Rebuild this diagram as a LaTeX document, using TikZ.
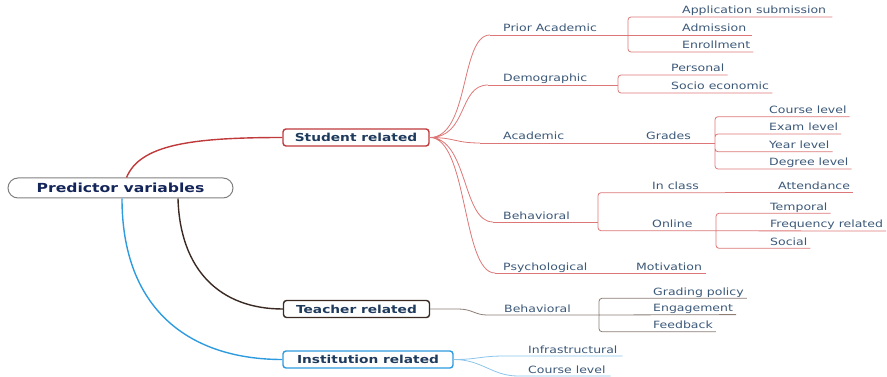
\documentclass[tikz,border=0pt]{standalone}
\usepackage{fontspec}
\newfontfamily\mapfont[FakeStretch=1.25]{DejaVu Sans}
\usetikzlibrary{positioning}
\definecolor{stured}{HTML}{C0393B}
\definecolor{redline}{HTML}{DD7777}
\definecolor{tchbrown}{HTML}{3A2A22}
\definecolor{brownline}{HTML}{8C7C74}
\definecolor{insblue}{HTML}{2E9BDF}
\definecolor{blueline}{HTML}{8CC6EC}
\definecolor{leafblue}{HTML}{3B5878}
\definecolor{hubnavy}{HTML}{1E3A5C}
\definecolor{rootnavy}{HTML}{14255A}
\tikzset{
    root/.style={draw=gray, line width=1pt, fill=white, rounded corners=10pt,
        minimum width=225pt, minimum height=20pt, inner sep=0pt,
        font=\mapfont\bfseries\fontsize{12.5}{14}\selectfont, text=rootnavy},
    hub/.style={draw, line width=1.4pt, fill=white, rounded corners=3pt,
        minimum width=146pt, minimum height=17pt, inner sep=0pt,
        font=\mapfont\bfseries\fontsize{11}{13}\selectfont, text=hubnavy},
    leaf/.style={anchor=south west, inner xsep=3pt, inner ysep=0.8pt,
        text height=7.3pt, text depth=2pt,
        font=\mapfont\fontsize{10}{12}\selectfont, text=leafblue},
    sthin/.style={draw=redline, line width=0.8pt},
    tthin/.style={draw=brownline, line width=0.8pt},
    ithin/.style={draw=blueline, line width=0.8pt}
}
\begin{document}
\begin{tikzpicture}[x=1pt, y=-1pt]
    \useasboundingbox (0, 0) rectangle (887, 377);
    % main topics
    \node[root] (pv) at (120.5, 188) {Predictor variables};
    \node[hub, draw=stured] (stu) at (356, 137.5) {Student related};
    \node[hub, draw=tchbrown] (tch) at (356.5, 309) {Teacher related};
    \node[hub, draw=insblue, minimum width=170pt] (ins) at (368, 359.5) {Institution related};
    \draw[stured, line width=1.4pt]
    ([xshift=6pt]pv.north) .. controls (140, 145) and (190, 137.5) .. (stu.west);
    \draw[tchbrown, line width=1.4pt]
    ([xshift=57.5pt]pv.south) .. controls (180, 270) and (220, 309) .. (tch.west);
    \draw[insblue, line width=1.4pt]
    ([xshift=1.5pt]pv.south) .. controls (122, 310) and (190, 359.5) .. (ins.west);

    % student related
    \node[leaf] (pa) at (500, 35) {Prior Academic};
    \node[leaf] (dem) at (500, 85) {Demographic};
    \node[leaf] (aca) at (500, 143) {Academic};
    \node[leaf] (beh) at (500, 222) {Behavioral};
    \node[leaf] (psy) at (500, 273) {Psychological};
    \coordinate (cPA) at (490, 35);
    \coordinate (cDM) at (488, 85);
    \coordinate (cAC) at (480, 143);
    \coordinate (cBH) at (493, 222);
    \coordinate (cPS) at (495, 273);
    \draw[sthin]
    (stu.east) .. controls (470, 137.5) and (460, 35) .. (cPA)
    (stu.east) .. controls (468, 137.5) and (458, 85) .. (cDM)
    (stu.east) .. controls (455, 137.5) and (455, 143) .. (cAC)
    (stu.east) .. controls (468, 137.5) and (462, 222) .. (cBH)
    (stu.east) .. controls (468, 137.5) and (462, 273) .. (cPS);

    % prior academic
    \node[leaf] (app) at (679, 17) {Application submission};
    \node[leaf] (adm) at (679, 35) {Admission};
    \node[leaf] (enr) at (679, 52) {Enrollment};
    \coordinate (bPA) at (628, 35);
    \draw[sthin] (cPA) -- ([xshift=3pt]adm.south east);
    \draw[sthin, rounded corners=3pt]
    ([xshift=3pt]app.south east) -- (bPA |- app.south) -- (bPA |- enr.south) -- (enr.south east);

    % demographic
    \node[leaf] (per) at (668, 75) {Personal};
    \node[leaf] (soc) at (668, 93) {Socio economic};
    \coordinate (bDM) at (618, 85);
    \draw[sthin] (cDM) -- (bDM);
    \draw[sthin, rounded corners=3pt]
    (per.south east) -- (bDM |- per.south) -- (bDM |- soc.south) -- (soc.south east);

    % academic
    \node[leaf] (grd) at (643, 143) {Grades};
    \node[leaf] (crs) at (766, 116.7) {Course level};
    \node[leaf] (exm) at (766, 134) {Exam level};
    \node[leaf] (yrl) at (766, 151.7) {Year level};
    \node[leaf] (dgl) at (766, 169) {Degree level};
    \coordinate (bGR) at (715, 143);
    \draw[sthin] (cAC) -- (bGR);
    \draw[sthin, rounded corners=3pt]
    (crs.south east) -- (bGR |- crs.south) -- (bGR |- dgl.south) -- (dgl.south east)
    (exm.south east) -- (bGR |- exm.south) -- (bGR |- yrl.south) -- (yrl.south east);

    % behavioral
    \node[leaf] (inc) at (649, 192.7) {In class};
    \node[leaf] (att) at (775, 192.7) {Attendance};
    \node[leaf] (onl) at (649, 230.7) {Online};
    \node[leaf] (tmp) at (767, 213.3) {Temporal};
    \node[leaf] (frq) at (767, 231) {Frequency related};
    \node[leaf] (scl) at (767, 248.3) {Social};
    \coordinate (bBH) at (598, 222);
    \coordinate (bON) at (716, 230.8);
    \coordinate (cIC) at (725, 192.7);
    \draw[sthin] (cBH) -- (bBH);
    \draw[sthin, rounded corners=3pt]
    (cIC) -- (bBH |- inc.south) -- (bBH |- onl.south) -- (bON);
    \draw[sthin] (cIC) -- (att.south east);
    \draw[sthin, rounded corners=3pt]
    (tmp.south east) -- (bON |- tmp.south) -- (bON |- scl.south) -- (scl.south east)
    (bON) -- (frq.south east);

    % psychological
    \node[leaf] (mot) at (633, 273) {Motivation};
    \draw[sthin] (cPS) -- ([xshift=1pt]mot.south east);

    % teacher related
    \node[leaf] (tbh) at (501, 315) {Behavioral};
    \node[leaf] (grp) at (650, 298.3) {Grading policy};
    \node[leaf] (eng) at (650, 314.6) {Engagement};
    \node[leaf] (fdb) at (650, 331.7) {Feedback};
    \coordinate (cTB) at (487, 315);
    \coordinate (bTB) at (599, 315);
    \draw[tthin] (tch.east) -- ++(28, 0) .. controls +(14, 0) and +(-12, 0) .. (cTB) -- (bTB);
    \draw[tthin, rounded corners=3pt]
    (grp.south east) -- (bTB |- grp.south) -- (bTB |- fdb.south) -- (fdb.south east)
    (bTB) -- (eng.south east);

    % institution related
    \node[leaf] (inf) at (525, 356) {Infrastructural};
    \node[leaf] (icl) at (525, 376) {Course level};
    \coordinate (cIF) at (505, 356);
    \coordinate (cCL) at (518, 376);
    \draw[ithin]
    (ins.east) .. controls (478, 359.5) and (480, 356) .. (cIF) -- ([xshift=2pt]inf.south east)
    (ins.east) .. controls (482, 359.5) and (492, 376) .. (cCL) -- ([xshift=2pt]icl.south east);
\end{tikzpicture}
\end{document}
